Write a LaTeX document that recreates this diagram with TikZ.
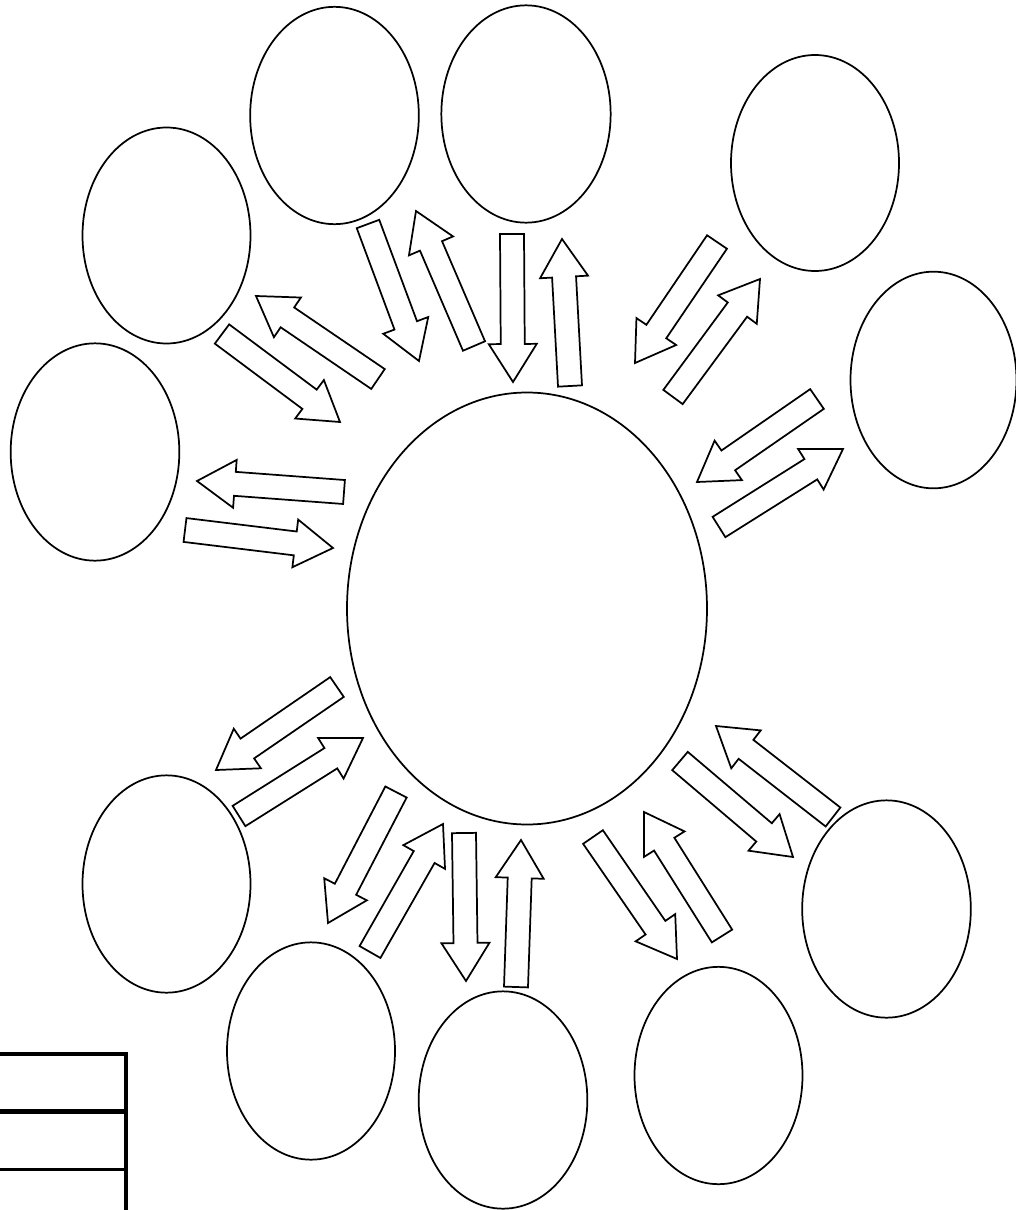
\documentclass[tikz,border=0pt]{standalone}
\usetikzlibrary{calc,shapes.geometric}
\tikzset{
  bubble/.style={draw, ellipse, line width=1.3pt, inner sep=0pt, outer sep=0pt},
  barrow/.style={draw, line width=1.3pt, line join=miter, fill=white},
  tabline/.style={line width=3pt}
}
\newcommand\blockarrow[3]{%
  \coordinate (#1t) at (#2);
  \coordinate (#1p) at (#3);
  \coordinate (#1n) at ($(#1p)!28.5pt!(#1t)$);
  \draw[barrow] ($(#1t)!9pt!90:(#1p)$) -- ($(#1n)!9pt!90:(#1p)$) -- ($(#1n)!18pt!90:(#1p)$) -- (#1p) -- ($(#1n)!18pt!-90:(#1p)$) -- ($(#1n)!9pt!-90:(#1p)$) -- ($(#1t)!9pt!-90:(#1p)$) -- cycle;}
\begin{document}
\begin{tikzpicture}[x=0.75pt,y=-0.75pt]
\useasboundingbox (0,0) rectangle (1016,1210);
% central ellipse
\node[bubble, minimum width=270pt, minimum height=324pt] (c) at (527,608.5) {};
% outer ellipses
\node[bubble, minimum width=126pt, minimum height=162pt] (e1) at (166.5,235.5) {};
\node[bubble, minimum width=126.5pt, minimum height=163pt] (e2) at (95,452) {};
\node[bubble, minimum width=126.5pt, minimum height=163pt] (e3) at (334.5,115.5) {};
\node[bubble, minimum width=127pt, minimum height=163pt] (e4) at (526,114) {};
\node[bubble, minimum width=126pt, minimum height=162pt] (e5) at (815,163) {};
\node[bubble, minimum width=124.5pt, minimum height=162.5pt] (e6) at (933.5,380) {};
\node[bubble, minimum width=126pt, minimum height=163pt] (e7) at (166.5,884) {};
\node[bubble, minimum width=126pt, minimum height=163pt] (e8) at (311,1051) {};
\node[bubble, minimum width=126.5pt, minimum height=163pt] (e9) at (503,1100) {};
\node[bubble, minimum width=126pt, minimum height=163pt] (e10) at (718.5,1075.5) {};
\node[bubble, minimum width=126.5pt, minimum height=163pt] (e11) at (886.5,909) {};
% block arrows
\blockarrow{aA}{368,224}{419,361}
\blockarrow{aB}{474,346}{416,211}
\blockarrow{aC}{512,234}{513,382}
\blockarrow{aD}{570,386}{562,239}
\blockarrow{aE}{222,334}{340,422}
\blockarrow{aF}{378,379}{256,296}
\blockarrow{aG}{717,242}{635,363}
\blockarrow{aH}{673,397}{760,279}
\blockarrow{aI}{817,399}{697,482}
\blockarrow{aJ}{719,527}{843,449}
\blockarrow{aK}{344,492}{197,481}
\blockarrow{aL}{185,530}{333,548}
\blockarrow{aM}{337,687}{216,770}
\blockarrow{aN}{239,816}{363,738}
\blockarrow{aO}{396,792}{328,923}
\blockarrow{aP}{370,952}{443,824}
\blockarrow{aQ}{464,833}{466,981}
\blockarrow{aR}{516,987}{521,840}
\blockarrow{aS}{593,837}{677,959}
\blockarrow{aT}{722,936}{644,812}
\blockarrow{aU}{680,761}{793,857}
\blockarrow{aV}{833,817}{716,726}
% table fragment
\coordinate (t0) at (0,1054);
\coordinate (t1) at (127,1054);
\coordinate (m0) at (0,1111.5);
\coordinate (m1) at (127,1111.5);
\coordinate (b0) at (0,1169.5);
\coordinate (b1) at (127,1169.5);
\coordinate (v0) at (126,1052);
\coordinate (v1) at (126,1210);
\draw[tabline] (t0) -- (t1);
\draw[line width=3.75pt] (m0) -- (m1);
\draw[line width=2.4pt] (b0) -- (b1);
\draw[tabline] (v0) -- (v1);
\end{tikzpicture}
\end{document}
